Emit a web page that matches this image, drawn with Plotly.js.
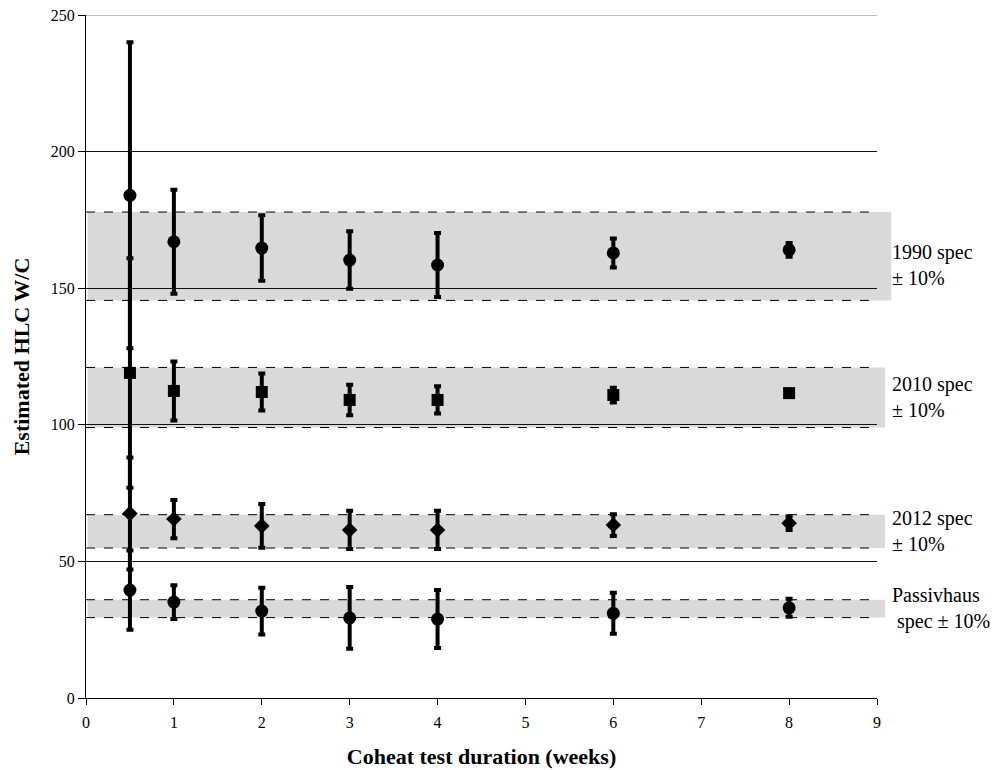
<!DOCTYPE html>
<html><head><meta charset="utf-8">
<script src="https://cdn.plot.ly/plotly-3.0.1.min.js"></script>
<style>body{margin:0;background:#fff}#c{width:1000px;height:770px}</style>
</head><body><div id="c"></div>
<script>
var weeks = [0.5, 1, 2, 3, 4, 6, 8];
var hlc1990 = [184, 167, 164.7, 160.3, 158.5, 162.9, 164];
var err1990 = [56, 19, 12, 10.5, 11.7, 5.3, 2.5];
var hlc2010 = [119, 112.4, 112, 109.1, 109.1, 110.9, 111.6];
var err2010 = [42, 10.8, 6.8, 5.6, 5, 2.7, 1];
var hlc2012 = [67.5, 65.5, 63, 61.5, 61.5, 63.3, 64];
var err2012 = [20.5, 7, 8, 7, 7, 4, 2.5];
var hlcPH = [39.5, 35.1, 31.8, 29.3, 28.9, 31, 33];
var errPH = [14.5, 6.2, 8.6, 11.3, 10.6, 7.5, 3.3];
var specNames = ["1990 spec<br>± 10%", "2010 spec<br>± 10%", "2012 spec<br>± 10%", "Passivhaus<br> spec ± 10%"];
var specValues = [161.7, 110, 61, 32.7];

var F = "Liberation Serif";
var bandExt = [1.018, 1.01, 1.01, 1.01];
var labelShift = [-9, 0, 0, 0];
function tr(y, e, sym, size){
  return {x: weeks, y: y, type:'scatter', mode:'markers', cliponaxis:false,
    marker:{symbol:sym, size:size, color:'#000'},
    error_y:{type:'data', array:e, visible:true, color:'#000', thickness:4, width:3.5},
    showlegend:false, hoverinfo:'x+y'};
}
var data = [
  tr(hlc1990, err1990, 'circle', 13),
  tr(hlc2010, err2010, 'square', 12),
  tr(hlc2012, err2012, 'diamond', 12),
  tr(hlcPH, errPH, 'circle', 13)
];
var shapes = [], annotations = [];
specValues.forEach(function(v, i){
  var lo = v*0.9, hi = v*1.1;
  shapes.push({type:'rect', xref:'paper', yref:'y', x0:0.002, x1:bandExt[i], y0:lo, y1:hi,
    fillcolor:'#d9d9d9', line:{width:0}, layer:'below'});
  [lo, hi].forEach(function(b){
    shapes.push({type:'line', xref:'paper', yref:'y', x0:0, x1:1, y0:b, y1:b,
      line:{color:'#000', width:1, dash:'dash'}, layer:'below'});
  });
  annotations.push({xref:'paper', yref:'y', x:1.017, y:v, yshift:labelShift[i], xanchor:'left', yanchor:'middle',
    text:specNames[i], showarrow:false, align:'left', font:{family:F, size:20, color:'#000'}});
});
shapes.push({type:'line', xref:'paper', yref:'y', x0:0, x1:1, y0:250, y1:250, line:{color:'#bbb', width:2}, layer:'above'});

var layout = {
  width:1000, height:770,
  margin:{l:86, r:123, t:15, b:72},
  paper_bgcolor:'#fff', plot_bgcolor:'rgba(0,0,0,0)',
  showlegend:false,
  font:{family:F, color:'#000'},
  xaxis:{range:[0,9], dtick:1, tick0:0, showgrid:false, zeroline:false, showline:true, linecolor:'#000', linewidth:1,
    ticks:'outside', ticklen:6, tickcolor:'#000', tickfont:{family:F, size:16}, ticklabelstandoff:4,
    title:{text:'<b>Coheat test duration (weeks)</b>', font:{family:F, size:22}, standoff:18}},
  yaxis:{range:[0,250], dtick:50, tick0:0, showgrid:true, gridcolor:'#111', gridwidth:1, zeroline:false,
    showline:true, linecolor:'#000', linewidth:1, ticks:'outside', ticklen:7, tickcolor:'#000',
    tickfont:{family:F, size:16},
    title:{text:'<b>Estimated HLC W/C</b>', font:{family:F, size:22}, standoff:15}},
  shapes:shapes, annotations:annotations
};
Plotly.newPlot('c', data, layout, {displayModeBar:false, staticPlot:true});
</script></body></html>
